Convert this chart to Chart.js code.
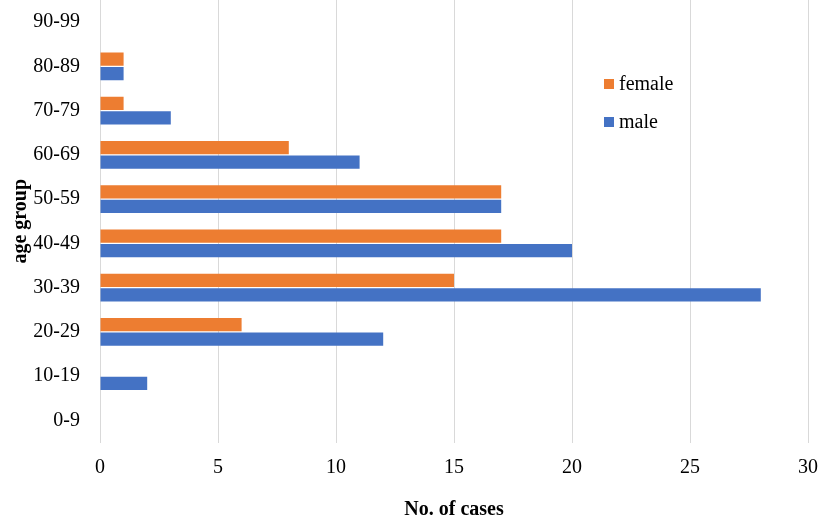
<!DOCTYPE html>
<html>
<head>
<meta charset="utf-8">
<script src="https://cdn.jsdelivr.net/npm/chart.js@4/dist/chart.umd.min.js"></script>
<style>
  html, body { margin: 0; padding: 0; background: #fff; overflow: hidden; }
  #wrap { position: relative; width: 819px; height: 519px; }
</style>
</head>
<body>
<div id="wrap"><canvas id="chart" width="819" height="519"></canvas></div>
<script>
// age groups, listed top to bottom as drawn
const ageGroups = ['90-99', '80-89', '70-79', '60-69', '50-59', '40-49', '30-39', '20-29', '10-19', '0-9'];
const femaleCases = [0, 1, 1, 8, 17, 17, 15, 6, 0, 0];
const maleCases = [0, 1, 3, 11, 17, 20, 28, 12, 2, 0];
const xTicks = [0, 5, 10, 15, 20, 25, 30];

const SERIF = '"Liberation Serif", "Times New Roman", serif';
const ORANGE = '#ED7D31';
const BLUE = '#4472C4';

// simple legend drawn inside the plot, like the original
const sideLegend = {
    id: 'sideLegend',
    afterDraw(chart) {
        const ctx = chart.ctx;
        ctx.save();
        ctx.font = '20px ' + SERIF;
        ctx.textBaseline = 'alphabetic';
        chart.data.datasets.forEach((ds, i) => {
            const y = 89 + i * 38;
            ctx.fillStyle = ds.backgroundColor;
            ctx.fillRect(604, y - 10, 10, 10);
            ctx.fillStyle = '#000';
            ctx.fillText(ds.label, 619, y + 1);
        });
        ctx.restore();
    }
};

new Chart(document.getElementById('chart'), {
    type: 'bar',
    data: {
        labels: ageGroups,
        datasets: [
            { label: 'female', data: femaleCases, backgroundColor: ORANGE },
            { label: 'male', data: maleCases, backgroundColor: BLUE }
        ]
    },
    options: {
        indexAxis: 'y',
        responsive: false,
        animation: false,
        devicePixelRatio: 1,
        categoryPercentage: 0.66,
        barPercentage: 0.9,
        layout: { padding: { top: -3, right: 11, left: 0, bottom: 0 } },
        plugins: {
            legend: { display: false },
            tooltip: { enabled: false }
        },
        scales: {
            x: {
                min: 0,
                max: 30,
                afterBuildTicks: (scale) => { scale.ticks = xTicks.map(v => ({ value: v })); },
                afterFit: (scale) => {
                    scale.height = 76.5;
                    scale.paddingLeft = 0;
                    scale.paddingRight = 0;
                },
                grid: { color: '#d9d9d9', lineWidth: 1, drawTicks: false },
                border: { display: false },
                ticks: { color: '#000', font: { family: SERIF, size: 20 }, padding: 13, maxRotation: 0 },
                title: {
                    display: true,
                    text: 'No. of cases',
                    color: '#000',
                    font: { family: SERIF, size: 20, weight: 'bold' },
                    padding: { top: 0, bottom: -3 }
                }
            },
            y: {
                afterFit: (scale) => {
                    scale.width = 100;
                    scale.paddingTop = 0;
                    scale.paddingBottom = 0;
                },
                grid: { display: false, drawTicks: false },
                border: { display: false },
                ticks: { color: '#000', font: { family: SERIF, size: 20 }, padding: 20 },
                title: {
                    display: true,
                    text: 'age group',
                    color: '#000',
                    font: { family: SERIF, size: 20, weight: 'bold' },
                    padding: { top: 9, bottom: 0 }
                }
            }
        }
    },
    plugins: [sideLegend]
});
</script>
</body>
</html>
